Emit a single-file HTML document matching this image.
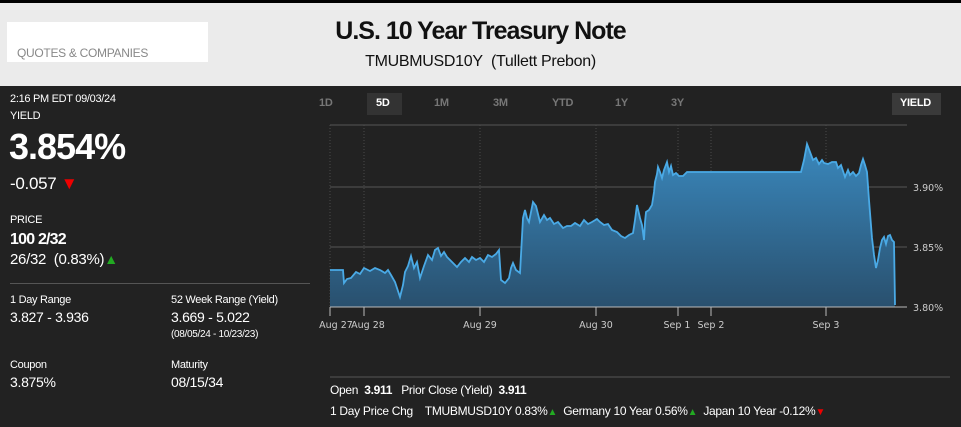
<!DOCTYPE html>
<html><head><meta charset="utf-8"><style>
*{margin:0;padding:0;box-sizing:border-box}
body{width:961px;height:427px;background:#222;position:relative;overflow:hidden;font-family:"Liberation Sans",sans-serif;color:#fff}
.t{position:absolute;white-space:nowrap;letter-spacing:-0.3px}
</style></head><body>
<div style="position:absolute;left:0;top:0;width:961px;height:3px;background:#000"></div>
<div style="position:absolute;left:0;top:3px;width:961px;height:83px;background:#ebebeb"></div>
<div style="position:absolute;left:7px;top:22px;width:201px;height:40px;background:#fff"></div>
<div class="t" style="left:17px;top:46px;font-size:12px;color:#888">QUOTES &amp; COMPANIES</div>
<div class="t" style="left:0;width:961px;text-align:center;top:17px;font-size:25px;font-weight:bold;color:#111;letter-spacing:-1px">U.S. 10 Year Treasury Note</div>
<div class="t" style="left:0;width:961px;text-align:center;top:53px;font-size:16px;color:#111;letter-spacing:-0.3px">TMUBMUSD10Y&nbsp; (Tullett Prebon)</div>

<div class="t" style="left:10px;top:93px;font-size:11px">2:16 PM EDT 09/03/24</div>
<div class="t" style="left:10px;top:110px;font-size:11px">YIELD</div>
<div class="t" style="left:9px;top:126px;font-size:36px;font-weight:bold;letter-spacing:-1px">3.854%</div>
<div class="t" style="left:10px;top:174px;font-size:17px">-0.057 <span style="color:#e00;font-size:17px">▼</span></div>
<div class="t" style="left:10px;top:214px;font-size:11px">PRICE</div>
<div class="t" style="left:10px;top:231px;font-size:16px;font-weight:bold;letter-spacing:-0.8px">100 2/32</div>
<div class="t" style="left:10px;top:251px;font-size:15px">26/32&nbsp; (0.83%)<span style="color:#2a2;font-size:14px">▲</span></div>
<div style="position:absolute;left:10px;top:283px;width:300px;height:1px;background:#555"></div>
<div class="t" style="left:10px;top:294px;font-size:11px">1 Day Range</div>
<div class="t" style="left:10px;top:309px;font-size:14px">3.827 - 3.936</div>
<div class="t" style="left:171px;top:294px;font-size:11px">52 Week Range (Yield)</div>
<div class="t" style="left:171px;top:309px;font-size:14px">3.669 - 5.022</div>
<div class="t" style="left:171px;top:329px;font-size:10px">(08/05/24 - 10/23/23)</div>
<div class="t" style="left:10px;top:359px;font-size:11px">Coupon</div>
<div class="t" style="left:10px;top:374px;font-size:14px">3.875%</div>
<div class="t" style="left:171px;top:359px;font-size:11px">Maturity</div>
<div class="t" style="left:171px;top:374px;font-size:14px">08/15/34</div>

<div style="position:absolute;left:367px;top:93px;width:35px;height:22px;background:#333"></div>
<div style="position:absolute;left:892px;top:93px;width:49px;height:22px;background:#3a3a3a"></div>
<div class="t" style="left:319px;top:97px;font-size:11px;color:#777;font-weight:bold">1D</div>
<div class="t" style="left:376px;top:97px;font-size:11px;color:#fff;font-weight:bold">5D</div>
<div class="t" style="left:434px;top:97px;font-size:11px;color:#777;font-weight:bold">1M</div>
<div class="t" style="left:493px;top:97px;font-size:11px;color:#777;font-weight:bold">3M</div>
<div class="t" style="left:552px;top:97px;font-size:11px;color:#777;font-weight:bold">YTD</div>
<div class="t" style="left:615px;top:97px;font-size:11px;color:#777;font-weight:bold">1Y</div>
<div class="t" style="left:671px;top:97px;font-size:11px;color:#777;font-weight:bold">3Y</div>
<div class="t" style="left:900px;top:97px;font-size:11px;color:#fff;font-weight:bold">YIELD</div>

<svg style="position:absolute;left:0;top:0" width="961" height="427">
<defs><linearGradient id="g" x1="0" y1="0" x2="0" y2="1"><stop offset="0" stop-color="#3a88bd"/><stop offset="1" stop-color="#29506e"/></linearGradient></defs>
<g stroke="#555" stroke-width="1">
<line x1="330" y1="125" x2="907" y2="125"/><line x1="330" y1="187" x2="907" y2="187"/><line x1="330" y1="247" x2="907" y2="247"/>
</g>
<g stroke="#4a4a4a" stroke-dasharray="1,2">
<line x1="330" y1="125" x2="330" y2="307"/><line x1="364" y1="125" x2="364" y2="307"/><line x1="480" y1="125" x2="480" y2="307"/><line x1="596" y1="125" x2="596" y2="307"/><line x1="678" y1="125" x2="678" y2="307"/><line x1="711" y1="125" x2="711" y2="307"/><line x1="826" y1="125" x2="826" y2="307"/>
</g>
<path id="p" d="M330,270 L343,270 L344,283 L347,279 L351,278 L356,272 L360,274 L364,268 L370,271 L375,268 L380,270 L385,273 L388,270 L391,275 L395,282 L400,297 L403,285 L405,272 L408,266 L411,256 L414,268 L417,262 L420,278 L424,266 L428,255 L432,260 L435,250 L438,248 L441,256 L444,252 L447,257 L452,262 L457,267 L461,262 L465,258 L469,262 L472,257 L476,260 L480,258 L484,262 L488,255 L492,257 L496,254 L499,250 L501,280 L505,283 L509,278 L511,268 L513,263 L516,270 L520,273 L523,218 L525,210 L527,218 L529,222 L531,212 L533,202 L536,206 L540,222 L544,215 L547,220 L550,218 L554,224 L558,222 L563,228 L567,226 L571,226 L575,223 L580,226 L584,220 L588,224 L592,222 L597,219 L600,222 L604,225 L608,224 L612,230 L617,232 L621,236 L625,238 L629,235 L633,233 L635,220 L637,205 L640,218 L642,225 L644,240 L645,222 L646,212 L649,210 L652,205 L654,192 L655,182 L657,174 L658,167 L660,172 L662,178 L664,170 L667,162 L669,172 L671,166 L673,175 L676,173 L679,176 L683,176 L687,172 L801,172 L804,160 L807,144 L810,152 L813,160 L816,158 L819,164 L822,160 L824,163 L828,164 L832,162 L836,162 L838,168 L841,165 L845,177 L848,170 L850,175 L853,172 L856,176 L859,173 L861,165 L863,159 L865,165 L867,172 L869,200 L872,238 L874,255 L876,268 L878,260 L880,248 L882,240 L884,237 L886,244 L888,236 L890,235 L892,240 L894,242 L895,305" fill="none"/>
<path d="M330,270 L343,270 L344,283 L347,279 L351,278 L356,272 L360,274 L364,268 L370,271 L375,268 L380,270 L385,273 L388,270 L391,275 L395,282 L400,297 L403,285 L405,272 L408,266 L411,256 L414,268 L417,262 L420,278 L424,266 L428,255 L432,260 L435,250 L438,248 L441,256 L444,252 L447,257 L452,262 L457,267 L461,262 L465,258 L469,262 L472,257 L476,260 L480,258 L484,262 L488,255 L492,257 L496,254 L499,250 L501,280 L505,283 L509,278 L511,268 L513,263 L516,270 L520,273 L523,218 L525,210 L527,218 L529,222 L531,212 L533,202 L536,206 L540,222 L544,215 L547,220 L550,218 L554,224 L558,222 L563,228 L567,226 L571,226 L575,223 L580,226 L584,220 L588,224 L592,222 L597,219 L600,222 L604,225 L608,224 L612,230 L617,232 L621,236 L625,238 L629,235 L633,233 L635,220 L637,205 L640,218 L642,225 L644,240 L645,222 L646,212 L649,210 L652,205 L654,192 L655,182 L657,174 L658,167 L660,172 L662,178 L664,170 L667,162 L669,172 L671,166 L673,175 L676,173 L679,176 L683,176 L687,172 L801,172 L804,160 L807,144 L810,152 L813,160 L816,158 L819,164 L822,160 L824,163 L828,164 L832,162 L836,162 L838,168 L841,165 L845,177 L848,170 L850,175 L853,172 L856,176 L859,173 L861,165 L863,159 L865,165 L867,172 L869,200 L872,238 L874,255 L876,268 L878,260 L880,248 L882,240 L884,237 L886,244 L888,236 L890,235 L892,240 L894,242 L895,307 L330,307 Z" fill="url(#g)"/>
<use href="#p" stroke="#4aaae6" stroke-width="1.8"/>
<line x1="330" y1="307" x2="907" y2="307" stroke="#bbb"/>
<g stroke="#bbb"><line x1="330" y1="307" x2="330" y2="316"/><line x1="364" y1="307" x2="364" y2="316"/><line x1="480" y1="307" x2="480" y2="316"/><line x1="596" y1="307" x2="596" y2="316"/><line x1="678" y1="307" x2="678" y2="316"/><line x1="711" y1="307" x2="711" y2="316"/><line x1="826" y1="307" x2="826" y2="316"/></g>
<g font-family="DejaVu Sans, sans-serif" font-size="9.5" fill="#ccc" text-anchor="middle">
<text x="336" y="328">Aug 27</text><text x="368" y="328">Aug 28</text><text x="480" y="328">Aug 29</text><text x="596" y="328">Aug 30</text><text x="677" y="328">Sep 1</text><text x="711" y="328">Sep 2</text><text x="826" y="328">Sep 3</text>
</g>
<g font-family="DejaVu Sans, sans-serif" font-size="9.5" fill="#ccc">
<text x="913" y="191">3.90%</text><text x="913" y="251">3.85%</text><text x="913" y="311">3.80%</text>
</g>
<line x1="330" y1="377" x2="950" y2="377" stroke="#555"/>
</svg>
<div class="t" style="left:330px;top:383px;font-size:12px">Open&nbsp; <b>3.911</b>&nbsp;&nbsp; Prior Close (Yield)&nbsp; <b>3.911</b></div>
<div class="t" style="left:330px;top:404px;font-size:12px">1 Day Price Chg&nbsp;&nbsp;&nbsp; TMUBMUSD10Y 0.83%<span style="color:#2a2;font-size:10px">▲</span>&nbsp; Germany 10 Year 0.56%<span style="color:#2a2;font-size:10px">▲</span>&nbsp; Japan 10 Year -0.12%<span style="color:#e00;font-size:10px">▼</span></div>
</body></html>
